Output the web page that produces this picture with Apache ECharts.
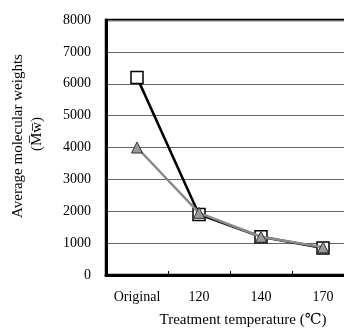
<!DOCTYPE html>
<html><head><meta charset="utf-8">
<script src="https://cdn.jsdelivr.net/npm/echarts@6/dist/echarts.min.js"></script>
<style>html,body{margin:0;padding:0;background:#fff}#c{width:344px;height:330px}</style>
</head><body><div id="c"></div>
<script>
const categories = ['Original', '120', '140', '170'];
const squareSeries = [6200, 1900, 1200, 850];
const triangleSeries = [4000, 1950, 1200, 870];
const yTicks = { min: 0, max: 8000, interval: 1000 };
const yTitle1 = 'Average molecular weights';
const yTitle2 = '(M\u0305w\u0305)';
const xTitle = 'Treatment temperature (\u2103)';

const serif = '"Liberation Serif", "DejaVu Serif", serif';
const chart = echarts.init(document.getElementById('c'), null, { renderer: 'canvas' });
chart.setOption({
  animation: false,
  backgroundColor: '#fff',
  grid: { left: 106, top: 20, right: -10, bottom: 55, outerBoundsMode: 'none', containLabel: false,
    show: true, borderColor: '#000', borderWidth: 2.5, backgroundColor: 'transparent' },
  xAxis: {
    type: 'category', data: categories, boundaryGap: true,
    axisLine: { lineStyle: { color: '#000', width: 3 } },
    axisTick: { show: true, inside: true, length: 4, lineStyle: { color: '#000', width: 1 } },
    axisLabel: { color: '#000', fontFamily: serif, fontSize: 14, margin: 15, interval: 0 },
    splitLine: { show: false }
  },
  yAxis: {
    type: 'value', min: yTicks.min, max: yTicks.max, interval: yTicks.interval,
    axisLine: { show: true, lineStyle: { color: '#000', width: 3 } },
    axisTick: { show: false },
    axisLabel: { color: '#000', fontFamily: serif, fontSize: 14, margin: 15, formatter: v => String(v) },
    splitLine: { show: true, lineStyle: { color: '#666', width: 1 } }
  },
  series: [
    {
      type: 'line', data: squareSeries, symbol: 'rect', symbolSize: 12,
      lineStyle: { color: '#000', width: 2.5 },
      itemStyle: { color: '#fff', borderColor: '#000', borderWidth: 1.5 },
      z: 2
    },
    {
      type: 'line', data: triangleSeries, symbol: 'triangle', symbolSize: 11,
      lineStyle: { color: '#8a8a8a', width: 2.5 },
      itemStyle: { color: '#999', borderColor: '#333', borderWidth: 1 },
      z: 3
    }
  ],
  graphic: [
    { type: 'text', x: 18, y: 136, rotation: Math.PI / 2,
      style: { text: yTitle1, font: '15px ' + serif, fill: '#000', align: 'center', verticalAlign: 'middle' } },
    { type: 'text', x: 37, y: 134, rotation: Math.PI / 2,
      style: { text: yTitle2, font: '15px ' + serif, fill: '#000', align: 'center', verticalAlign: 'middle' } },
    { type: 'text', x: 243, y: 320,
      style: { text: xTitle, font: '15px ' + serif, fill: '#000', align: 'center', verticalAlign: 'middle' } }
  ]
});
</script></body></html>
